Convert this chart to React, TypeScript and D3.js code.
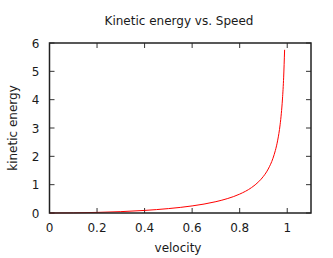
import { useEffect, useRef } from "react";
import * as d3 from "d3";

const velocity = [0, 0.1, 0.2, 0.3, 0.4, 0.5, 0.6, 0.7, 0.75, 0.8, 0.85, 0.88, 0.9, 0.92, 0.94, 0.95, 0.96, 0.97, 0.975, 0.98, 0.985, 0.989];
const kineticEnergy = [0, 0.005, 0.021, 0.048, 0.091, 0.155, 0.25, 0.4, 0.512, 0.667, 0.898, 1.105, 1.294, 1.552, 1.931, 2.203, 2.571, 3.113, 3.502, 4.025, 4.795, 5.76];
const xTicks = [0, 0.2, 0.4, 0.6, 0.8, 1];
const yTicks = [0, 1, 2, 3, 4, 5, 6];

function App() {
  const ref = useRef<SVGSVGElement>(null);

  useEffect(() => {
    const width = 333;
    const height = 258;
    const margin = { top: 43, right: 22, bottom: 45, left: 49.5 };
    const svg = d3.select(ref.current);
    svg.selectAll("*").remove();

    const x = d3.scaleLinear().domain([0, 1.1]).range([margin.left, width - margin.right]);
    const y = d3.scaleLinear().domain([0, 6]).range([height - margin.bottom, margin.top]);
    const font = "DejaVu Sans, sans-serif";

    // gnuplot style ticks, inward, mirrored
    const tick = 5;
    const g = svg.append("g").attr("stroke", "#333").attr("stroke-width", 1);
    xTicks.forEach((t) => {
      g.append("line").attr("x1", x(t)).attr("x2", x(t)).attr("y1", y(0)).attr("y2", y(0) - tick);
      g.append("line").attr("x1", x(t)).attr("x2", x(t)).attr("y1", y(6)).attr("y2", y(6) + tick);
    });
    yTicks.forEach((t) => {
      g.append("line").attr("x1", x(0)).attr("x2", x(0) + tick).attr("y1", y(t)).attr("y2", y(t));
      g.append("line").attr("x1", x(1.1)).attr("x2", x(1.1) - tick).attr("y1", y(t)).attr("y2", y(t));
    });

    const line = d3
      .line<number>()
      .x((d, i) => x(velocity[i]))
      .y((d) => y(d))
      .curve(d3.curveMonotoneX);
    svg.append("path")
      .datum(kineticEnergy)
      .attr("fill", "none")
      .attr("stroke", "red")
      .attr("stroke-width", 1)
      .attr("d", line);

    svg.append("rect")
      .attr("x", x(0))
      .attr("y", y(6))
      .attr("width", x(1.1) - x(0))
      .attr("height", y(0) - y(6))
      .attr("fill", "none")
      .attr("stroke", "#222")
      .attr("stroke-width", 1.5);

    const txt = svg.append("g").attr("font-family", font).attr("font-size", 12).attr("fill", "#1a1a1a");
    xTicks.forEach((t) => {
      txt.append("text").attr("x", x(t)).attr("y", y(0) + 19).attr("text-anchor", "middle").text(d3.format("~g")(t));
    });
    yTicks.forEach((t) => {
      txt.append("text").attr("x", x(0) - 10).attr("y", y(t) + 4.5).attr("text-anchor", "end").text(t);
    });
    txt.append("text").attr("x", 179).attr("y", 25).attr("text-anchor", "middle").text("Kinetic energy vs. Speed");
    txt.append("text").attr("x", 178).attr("y", 252).attr("text-anchor", "middle").text("velocity");
    txt.append("text")
      .attr("transform", `translate(17,${(y(0) + y(6)) / 2}) rotate(-90)`)
      .attr("text-anchor", "middle")
      .text("kinetic energy");
  }, []);

  return (
    <svg ref={ref} width={333} height={258} style={{ position: "absolute", left: 0, top: 0, background: "white" }} />
  );
}

export default App;
